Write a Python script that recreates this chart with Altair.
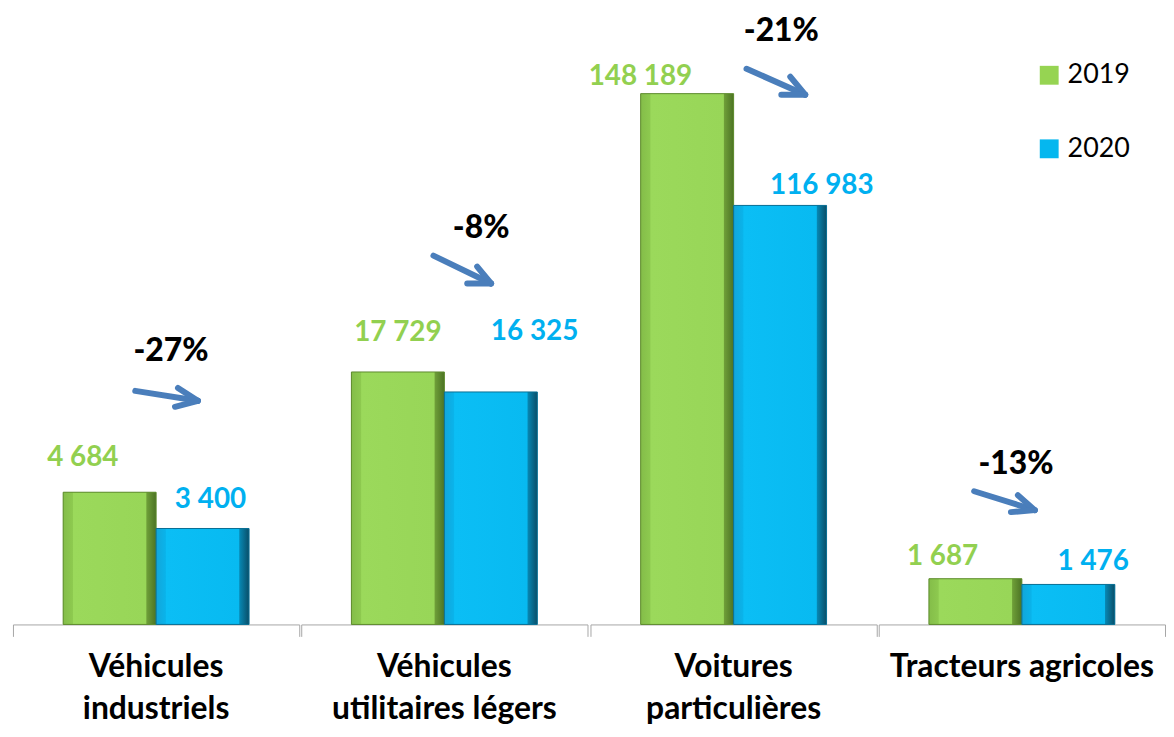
import altair as alt
import pandas as pd

# ---- data ----
categories = ["Véhicules industriels", "Véhicules utilitaires légers",
              "Voitures particulières", "Tracteurs agricoles"]
label_lines = ["Véhicules|industriels", "Véhicules|utilitaires légers",
               "Voitures|particulières", "Tracteurs agricoles"]
years = ["2019", "2020"]
values_2019 = [4684, 17729, 148189, 1687]
values_2020 = [3400, 16325, 116983, 1476]
changes = ["-27%", "-8%", "-21%", "-13%"]

# ---- layout / style (not data) ----
GREEN, BLUE = "#96D452", "#05B7EF"
GREEN_TXT, BLUE_TXT = "#92D050", "#00B0F0"
GREEN_DK, BLUE_DK = "#5E8A2E", "#0A6F93"
ARROW = "#4A7EBB"
FONT = "Lato"
PW, PH = 288, 618
# each group of the original picture uses its own vertical scale
y_domain_max = [21765, 43136, 171498, 22665]
# value-label offsets (dx, dy) for 2019 / 2020
lab_off = [[(-27, -34), (8, -29)], [(0, -39), (44, -60)],
           [(-47, -17), (42, -19)], [(-33, -22), (25, -23)]]
# percentage text centre and arrow geometry (panel pixel coords)
pct_pos = [(159, 343), (181, 219), (192, 21), (138, 457)]
arrows = [
    [(123, 383), (186, 393), (166, 380), (163, 399)],
    [(133, 247), (191, 275), (177, 258), (167, 275)],
    [(157, 59), (216, 85), (201, 67), (192, 85)],
    [(96, 484), (157, 503), (140, 488), (133, 505)],
]


def grad(stops):
    return alt.Gradient(gradient="linear", x1=0, x2=1, y1=0, y2=0,
                        stops=[alt.GradientStop(offset=o, color=c) for o, c in stops])


GRADS = {
    "2019": grad([(0, "#84BD49"), (0.1, "#8DC94F"), (0.11, "#9BD95B"),
                  (0.89, "#98D658"), (0.9, "#6E9E38"), (1, "#4C7324")]),
    "2020": grad([(0, "#13A6DA"), (0.1, "#0AB3EA"), (0.11, "#0BBEF5"),
                  (0.89, "#08BAF1"), (0.9, "#0786B1"), (1, "#0A4E68")]),
}
DARK = {"2019": GREEN_DK, "2020": BLUE_DK}


def fmt(v):
    return f"{v:,}".replace(",", " ")


def seg(p, q):
    return alt.Chart(alt.Data(values=[{}])).mark_rule(
        color=ARROW, strokeWidth=6, strokeCap="round"
    ).encode(x=alt.value(p[0]), y=alt.value(p[1]),
             x2=alt.value(q[0]), y2=alt.value(q[1]))


def panel(i):
    df = pd.DataFrame({
        "cat": [categories[i]] * 2,
        "year": years,
        "value": [values_2019[i], values_2020[i]],
    })
    df["label"] = df["value"].map(fmt)
    xaxis = alt.Axis(labels=False, grid=False, tickBand="extent",
                     tickSize=12, tickColor="#A6A6A6", domainColor="#A6A6A6")
    xscale = alt.Scale(paddingInner=0, paddingOuter=0)
    base = alt.Chart(df).encode(
        x=alt.X("cat:N", title=None, scale=xscale, axis=xaxis),
        xOffset=alt.XOffset("year:N", scale=alt.Scale(paddingInner=0, paddingOuter=0.54)),
        y=alt.Y("value:Q", scale=alt.Scale(domain=[0, y_domain_max[i]]), axis=None),
    )
    bars = base.mark_bar(strokeWidth=0).encode(
        color=alt.Color("year:N", scale=alt.Scale(domain=years, range=[GREEN, BLUE]),
                        legend=alt.Legend(title=None, orient="none", legendX=1029, legendY=52,
                                          symbolType="square", symbolSize=360,
                                          symbolStrokeWidth=0, labelFont=FONT,
                                          labelFontSize=27, labelColor="#000000",
                                          rowPadding=46, labelOffset=5)),
    )
    layers = [bars]
    for yr in years:
        layers.append(
            base.transform_filter(alt.datum.year == yr).mark_bar(
                fill=GRADS[yr], stroke=DARK[yr], strokeWidth=1)
        )
    for j, (yr, col) in enumerate(zip(years, [GREEN_TXT, BLUE_TXT])):
        dx, dy = lab_off[i][j]
        layers.append(
            base.transform_filter(alt.datum.year == yr).mark_text(
                font=FONT, fontSize=28, fontWeight="bold", color=col,
                dx=dx, dy=dy, baseline="middle", align="center"
            ).encode(text="label:N")
        )
    # category label under the axis
    layers.append(
        alt.Chart(alt.Data(values=[{"cat": categories[i], "t": label_lines[i]}])).mark_text(
            font=FONT, fontSize=32, fontWeight="bold", color="#000000",
            baseline="top", align="center", lineBreak="|", lineHeight=42
        ).encode(x=alt.X("cat:N", title=None, scale=xscale, axis=xaxis),
                 y=alt.value(PH + 28), text="t:N")
    )
    px, py = pct_pos[i]
    layers.append(
        alt.Chart(alt.Data(values=[{"t": changes[i]}])).mark_text(
            font=FONT, fontSize=32, fontWeight=900, color="#000000",
            baseline="middle", align="center"
        ).encode(x=alt.value(px), y=alt.value(py), text="t:N")
    )
    s, t, w1, w2 = arrows[i]
    layers += [seg(s, t), seg(w1, t), seg(w2, t)]
    return alt.layer(*layers).properties(width=PW, height=PH)


chart = alt.hconcat(*[panel(i) for i in range(4)], spacing=0).resolve_scale(
    x="independent", y="independent", xOffset="independent", color="shared"
).properties(
    padding={"left": 4, "top": 0, "right": 0, "bottom": 0},
    background="#FFFFFF",
).configure_view(strokeWidth=0, stroke="transparent")

chart.save("out.html", embed_options={"renderer": "svg", "actions": False})
